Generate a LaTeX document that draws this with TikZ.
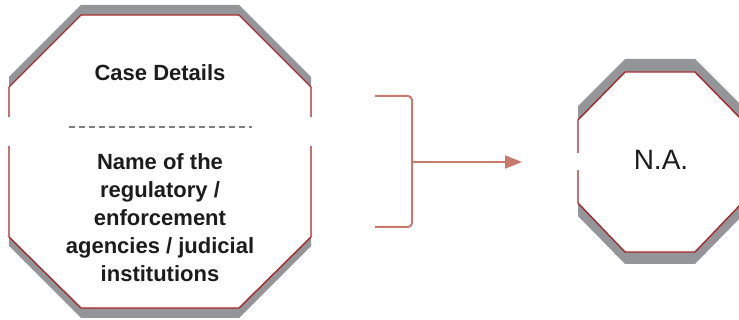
\documentclass[tikz,border=0pt]{standalone}
\usepackage{fontspec}
\setmainfont{Liberation Sans}
\usetikzlibrary{arrows.meta}
\definecolor{octred}{HTML}{A4282C}
\definecolor{octgray}{HTML}{939598}
\definecolor{brk}{HTML}{C77B6C}
\definecolor{txt}{HTML}{1C1C1C}
\definecolor{dashgray}{HTML}{7F7F7F}
\tikzset{
  shadowfill/.style={fill=octgray, draw=none},
  octline/.style={draw=octred, fill=white, line width=1.4pt, line join=miter},
  gapcover/.style={fill=white, draw=none},
  boldtxt/.style={text=txt, inner sep=0pt, align=center, font=\fontsize{22}{28}\selectfont\bfseries},
  thintxt/.style={text=txt, inner sep=0pt, font=\fontsize{28}{32}\selectfont},
  brackline/.style={draw=brk, line width=2pt, rounded corners=4pt},
  arrowline/.style={draw=brk, line width=2pt, -{Triangle[length=17pt,width=13pt]}},
  sepline/.style={draw=dashgray, line width=1.3pt, dash pattern=on 6pt off 4pt}
}
\begin{document}
\begin{tikzpicture}[x=1pt,y=-1pt]
\useasboundingbox (0,0) rectangle (739,320);
% left octagon
\fill[shadowfill] (81,5) -- (239,5) -- (311,77) -- (311,246) -- (239,318) -- (81,318) -- (9,246) -- (9,77) -- cycle;
\path[octline] (81,15) -- (239,15) -- (311,87) -- (311,237) -- (239,308) -- (81,308) -- (9,237) -- (9,87) -- cycle;
\fill[gapcover] (4,117) rectangle (14,146);
\fill[gapcover] (306,117) rectangle (316,146);
\coordinate (dl) at (69,127);
\coordinate (dr) at (252,127);
\draw[sepline] (dl) -- (dr);
\node[boldtxt] (case) at (160,72.5) {Case Details};
\node[boldtxt] (name) at (160,218) {Name of the\\regulatory /\\enforcement\\agencies / judicial\\institutions};
% right octagon
\fill[shadowfill] (625,59) -- (695,59) -- (742,106) -- (742,216) -- (695,264) -- (625,264) -- (578,216) -- (578,106) -- cycle;
\path[octline] (625,72) -- (695,72) -- (742,120) -- (742,203) -- (695,252) -- (625,252) -- (578,203) -- (578,120) -- cycle;
\fill[gapcover] (573,153) rectangle (583,170);
\node[thintxt] (na) at (661,160) {N.A.};
% bracket and arrow
\coordinate (bt) at (375,96);
\coordinate (bb) at (375,227);
\coordinate (bm) at (412,162);
\coordinate (tip) at (522,162);
\draw[brackline] (bt) -- (412,96) -- (412,227) -- (bb);
\draw[arrowline] (bm) -- (tip);
\end{tikzpicture}
\end{document}
